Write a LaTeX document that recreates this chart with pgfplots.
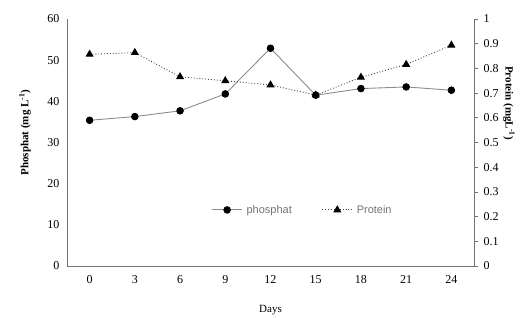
\documentclass[border=0pt]{standalone}
\usepackage{fontspec}
\setmainfont{Liberation Serif}
\newfontfamily\legfont{Liberation Sans}
\usepackage{pgfplots}
\pgfplotsset{compat=1.18}
\definecolor{axgray}{gray}{0.45}
\definecolor{phline}{gray}{0.55}
\definecolor{prline}{gray}{0.25}
\begin{document}
\begin{tikzpicture}
\useasboundingbox (0,0) rectangle (521pt,317pt);
\pgfplotsset{
  every axis/.append style={
    scale only axis, width=407pt, height=247pt,
    xmin=-0.5, xmax=8.5,
    /pgf/number format/assume math mode=true,
    tick label style={font=\fontsize{12}{14}\selectfont},
    axis line style={axgray, line width=0.8pt},
  }
}
\begin{axis}[
  at={(67pt,51pt)}, anchor=south west,
  axis y line*=left, axis x line*=bottom,
  ymin=0, ymax=60, ytick={0,10,...,60},
  xtick={0,...,8}, xticklabels={0,3,6,9,12,15,18,21,24},
  major tick length=0pt,
  xticklabel style={yshift=-6pt},
  yticklabel style={xshift=-4pt},
  xlabel={Days}, xlabel style={font=\fontsize{11}{13}\selectfont, at={(axis description cs:0.5,-0.179)}, anchor=center},
  ylabel={\textbf{Phosphat (mg L\textsuperscript{-1})}},
  ylabel style={font=\fontsize{11}{13}\selectfont, at={(axis description cs:-0.103,0.54)}, anchor=center},
]
\addplot[phline, line width=0.9pt, mark=*, mark size=3.3pt, mark options={black, solid}]
  coordinates {(0,35.4) (1,36.3) (2,37.7) (3,41.8) (4,52.9) (5,41.5) (6,43.1) (7,43.5) (8,42.7)};
\end{axis}
\begin{axis}[
  at={(67pt,51pt)}, anchor=south west,
  axis y line*=right, axis x line=none,
  ymin=0, ymax=1, ytick={0,0.1,...,1.01},
  yticklabel style={xshift=2pt, /pgf/number format/fixed, /pgf/number format/precision=1},
  major tick length=4pt, ytick style={draw=axgray, line width=0.8pt},
  ytick align=outside,
  ylabel={\textbf{Protein (mgL\textsuperscript{-1})}},
  ylabel style={font=\fontsize{11}{13}\selectfont, rotate=180, at={(axis description cs:1.086,0.66)}, anchor=center},
  legend style={draw=none, fill=none, at={(0.579,0.227)}, anchor=center,
    font=\legfont\fontsize{11}{13}\selectfont, text=axgray, legend columns=2,
    /tikz/every even column/.append style={column sep=28pt},
    /tikz/every odd column/.append style={column sep=2pt}},
  legend image code/.code={
    \draw[#1] (0pt,0pt) -- (30pt,0pt);
    \draw[#1, mark repeat=1, only marks] plot coordinates {(15pt,0pt)};
  },
]
\addlegendimage{phline, line width=0.9pt, mark=*, mark size=3.3pt, mark options={black, solid}}
\addlegendentry{phosphat}
\addplot[prline, line width=0.9pt, dotted, mark=triangle*, mark size=3.8pt, mark options={black, solid}]
  coordinates {(0,0.857) (1,0.864) (2,0.766) (3,0.750) (4,0.733) (5,0.692) (6,0.764) (7,0.816) (8,0.894)};
\addlegendentry{Protein}
\end{axis}
\end{tikzpicture}
\end{document}
